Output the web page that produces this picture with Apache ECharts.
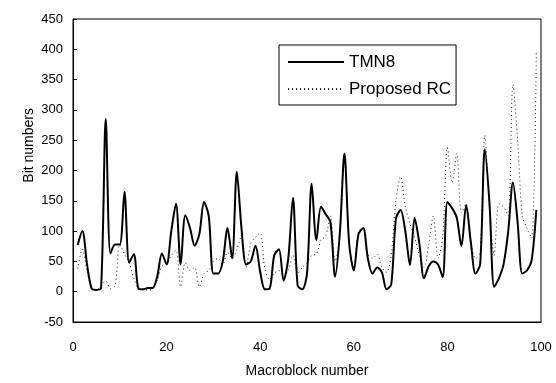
<!DOCTYPE html>
<html>
<head>
<meta charset="utf-8">
<script src="https://cdn.jsdelivr.net/npm/echarts@6/dist/echarts.min.js"></script>
<style>
  html, body { margin: 0; padding: 0; background: #fff; }
  #chart { width: 556px; height: 383px; }
</style>
</head>
<body>
<div id="chart"></div>
<script>
// Macroblock indices 1..99
const macroblocks = Array.from({ length: 99 }, (_, k) => k + 1);

// Bits spent per macroblock, TMN8 rate control
const tmn8Bits = [
  77, 100, 45, 5, 3, 6, 285, 63, 78, 78,
  165, 48, 62, 5, 4, 6, 6, 25, 63, 45,
  100, 145, 45, 126, 105, 76, 95, 148, 125, 30,
  30, 50, 105, 55, 198, 105, 45, 50, 76, 33,
  4, 5, 60, 70, 18, 55, 155, 10, 4, 30,
  178, 85, 140, 128, 115, 25, 95, 228, 80, 35,
  95, 105, 55, 30, 40, 32, 4, 12, 120, 135,
  100, 44, 122, 80, 22, 42, 50, 45, 24, 148,
  138, 122, 75, 143, 82, 30, 45, 235, 145, 8,
  22, 45, 100, 180, 115, 30, 35, 52, 135
];

// Bits spent per macroblock, proposed rate control
const proposedBits = [
  38, 70, 35, 5, 3, 10, 18, 5, 10, 78,
  62, 48, 22, 4, 3, 3, 4, 18, 42, 45,
  60, 68, 8, 48, 35, 40, 8, 30, 35, 50,
  55, 45, 65, 55, 70, 92, 40, 80, 90, 97,
  38, 20, 30, 35, 25, 35, 60, 30, 40, 48,
  60, 62, 85, 92, 125, 50, 90, 225, 80, 40,
  100, 105, 62, 55, 62, 40, 32, 60, 150, 190,
  140, 112, 90, 60, 40, 78, 125, 55, 90, 238,
  180, 228, 130, 145, 85, 55, 65, 258, 140, 60,
  145, 140, 125, 342, 250, 125, 105, 88, 395
];

const xTicks = { min: 0, max: 100, step: 20 };
const yTicks = { min: -50, max: 450, step: 50 };

const pairs = (ys) => macroblocks.map((x, k) => [x, ys[k]]);

const font = 'Liberation Sans, Arial, Helvetica, sans-serif';
const chart = echarts.init(document.getElementById('chart'), null, { renderer: 'canvas' });

chart.setOption({
  animation: false,
  backgroundColor: '#fff',
  grid: {
    left: 73, right: 15, top: 19, bottom: 59,
    show: true, borderColor: '#000', borderWidth: 1, backgroundColor: 'transparent'
  },
  legend: {
    orient: 'vertical',
    left: 279, top: 45,
    padding: [8, 5, 7, 8],
    itemGap: 9,
    itemWidth: 56, itemHeight: 14,
    borderColor: '#000', borderWidth: 1,
    backgroundColor: '#fff',
    itemStyle: { opacity: 0 },
    textStyle: { fontFamily: font, fontSize: 17, color: '#000', lineHeight: 18 },
    data: ['TMN8', 'Proposed RC']
  },
  xAxis: {
    type: 'value',
    min: xTicks.min, max: xTicks.max, interval: xTicks.step,
    name: 'Macroblock number',
    nameLocation: 'middle', nameGap: 42,
    nameTextStyle: { fontFamily: font, fontSize: 14, color: '#000' },
    axisLine: { onZero: false, lineStyle: { color: '#000', width: 1 } },
    axisTick: { show: false },
    splitLine: { show: false },
    axisLabel: { fontFamily: font, fontSize: 13, color: '#000', margin: 19 }
  },
  yAxis: {
    type: 'value',
    min: yTicks.min, max: yTicks.max, interval: yTicks.step,
    axisLine: { show: true, onZero: false, lineStyle: { color: '#000', width: 1 } },
    axisTick: { show: true, inside: true, length: 4, lineStyle: { color: '#000' } },
    splitLine: { show: false },
    axisLabel: { fontFamily: font, fontSize: 13, color: '#000', margin: 10 }
  },
  graphic: [{
    type: 'text',
    left: 22, top: 108,
    rotation: Math.PI / 2,
    style: { text: 'Bit numbers', font: '14px ' + font, fill: '#000' }
  }],
  series: [
    {
      name: 'TMN8',
      type: 'line',
      data: pairs(tmn8Bits),
      smooth: 0.3,
      symbol: 'none',
      z: 3,
      lineStyle: { color: '#000', width: 2 },
      itemStyle: { color: '#000' }
    },
    {
      name: 'Proposed RC',
      type: 'line',
      data: pairs(proposedBits),
      smooth: 0.3,
      symbol: 'none',
      z: 2,
      lineStyle: { color: '#222', width: 1, type: [1, 3] },
      itemStyle: { color: '#222' }
    }
  ]
});
</script>
</body>
</html>
